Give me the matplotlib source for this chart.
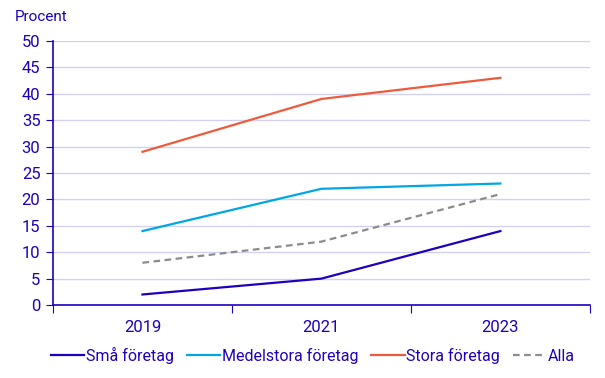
import numpy as np
import matplotlib.pyplot as plt

plt.rcParams['font.family'] = ['Roboto', 'DejaVu Sans']

years = ['2019', '2021', '2023']
sma = [2, 5, 14]
medel = [14, 22, 23]
stora = [29, 39, 43]
alla = [8, 12, 21]

blue = '#1e00be'
fig = plt.figure(figsize=(6.05, 3.78), dpi=100)
ax = fig.add_axes([0.0876, 0.193, 0.8874, 0.699])

x = np.arange(len(years))
ax.plot(x, sma, color=blue, lw=1.6, label='Små företag')
ax.plot(x, medel, color='#00a6e6', lw=1.6, label='Medelstora företag')
ax.plot(x, stora, color='#f05a3c', lw=1.6, label='Stora företag')
ax.plot(x, alla, color='#8c8c8c', lw=1.6, ls=(0, (3, 2)), label='Alla')

ax.set_xlim(-0.5, len(years) - 0.5)
ax.set_ylim(0, 50)
ax.set_yticks(range(0, 51, 5))
ax.set_xticks(np.arange(-0.5, len(years), 1))
ax.set_xticklabels([])
ax.set_xticks(x, minor=True)
ax.set_xticklabels(years, minor=True)
ax.tick_params(axis='x', which='minor', length=0, pad=11)
ax.tick_params(axis='x', which='major', length=6, color=blue)
ax.tick_params(axis='y', length=5, color=blue, pad=4)
ax.tick_params(axis='both', which='both', labelcolor=blue, labelsize=12)

ax.grid(axis='y', color='#d2d2f0', lw=1)
ax.set_axisbelow(True)
for s in ['top', 'right']:
    ax.spines[s].set_visible(False)
for s in ['left', 'bottom']:
    ax.spines[s].set_color(blue)
    ax.spines[s].set_linewidth(1.2)

fig.text(0.025, 0.945, 'Procent', color=blue, fontsize=11)

leg = fig.legend(loc='lower center', bbox_to_anchor=(0.517, 0.0), ncol=4, frameon=False,
                 fontsize=11.5, handlelength=2.1, handletextpad=0.1, columnspacing=0.8)
for t in leg.get_texts():
    t.set_color(blue)

fig.savefig('out.png', dpi=100)
